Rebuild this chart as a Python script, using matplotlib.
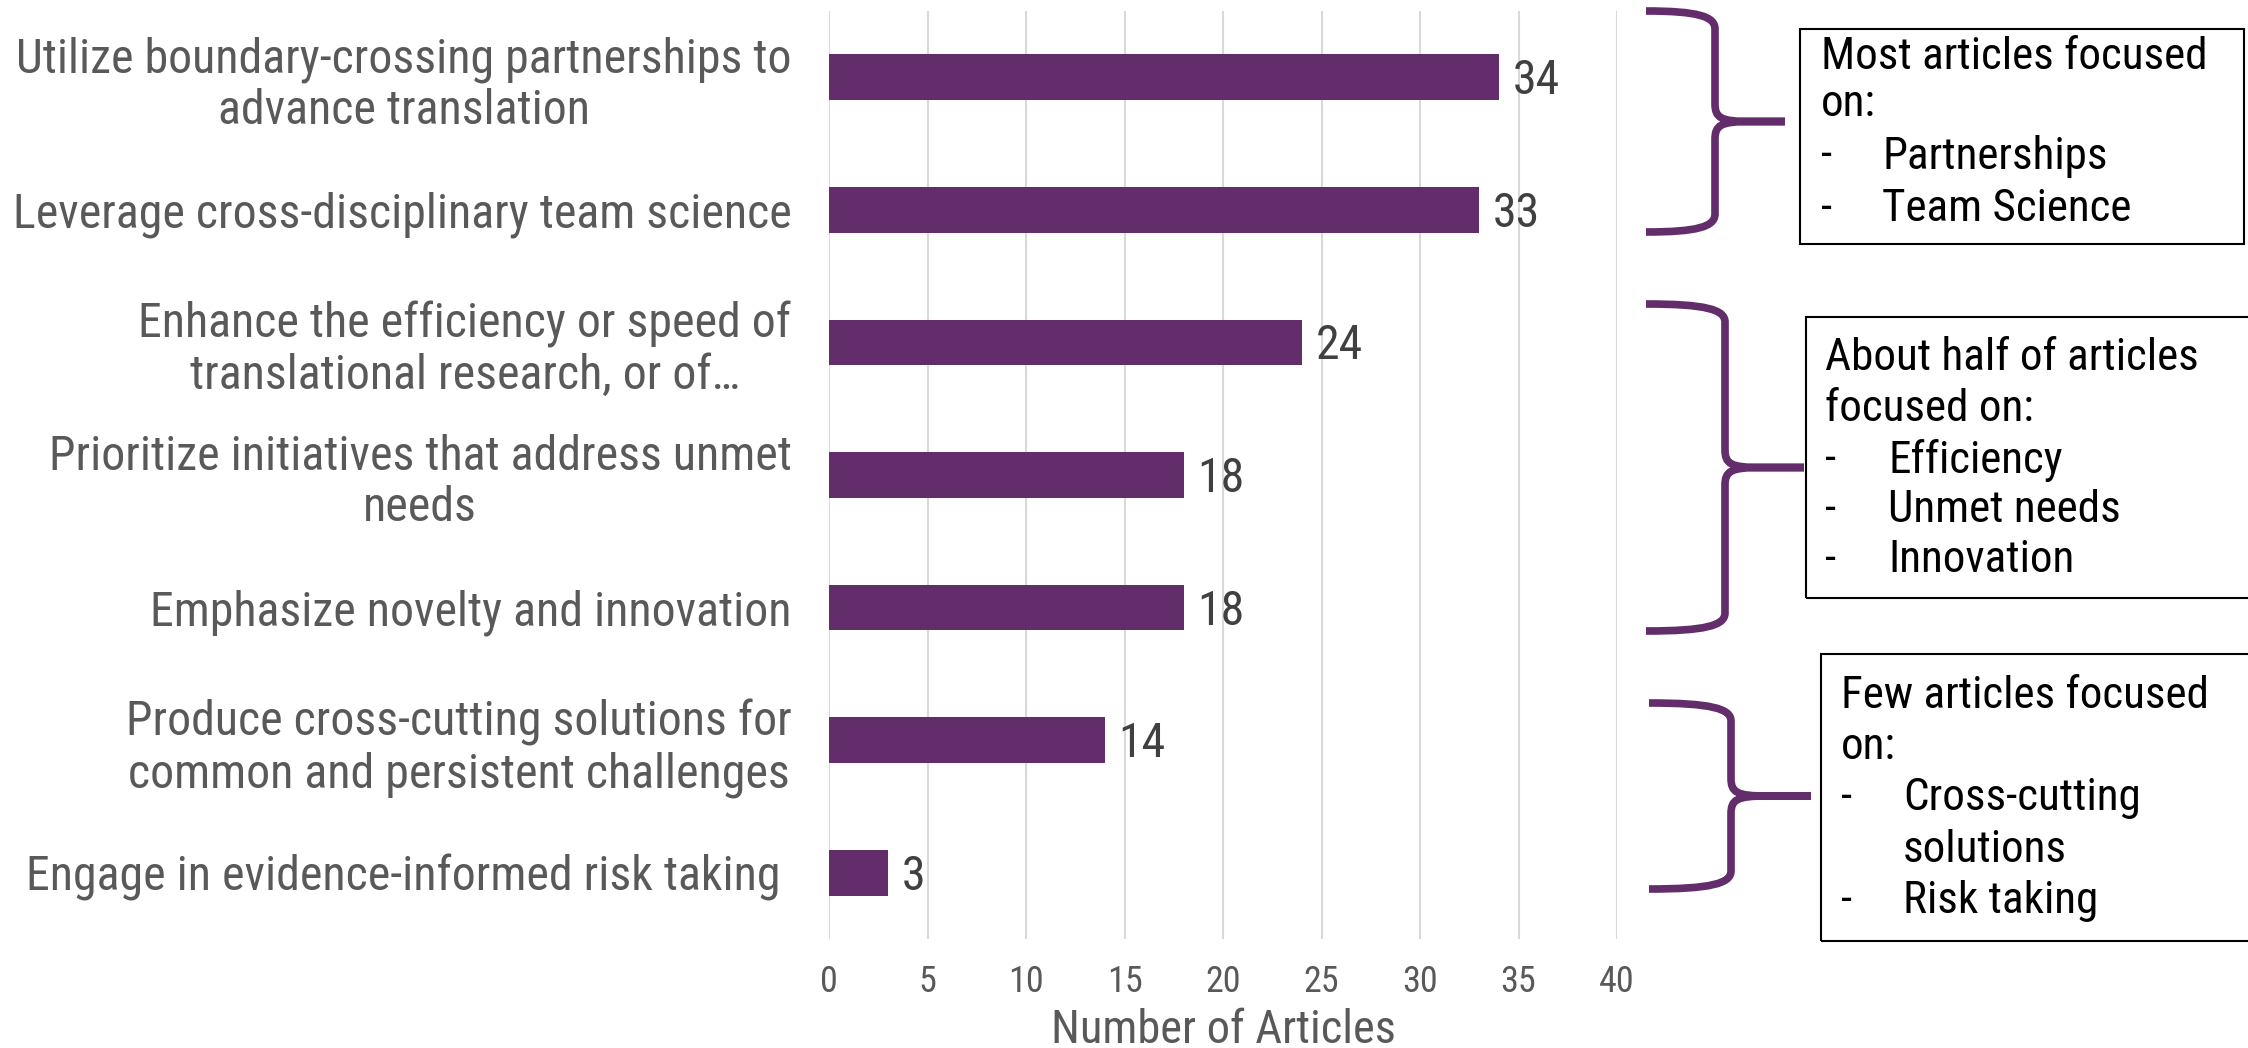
import matplotlib.pyplot as plt
from matplotlib.path import Path
from matplotlib.patches import PathPatch, Rectangle

plt.rcParams["font.family"] = ["Roboto Condensed", "Liberation Sans", "DejaVu Sans"]

# Data
categories = [
    "Utilize boundary-crossing partnerships to\nadvance translation",
    "Leverage cross-disciplinary team science",
    "Enhance the efficiency or speed of\ntranslational research, or of\u2026",
    "Prioritize initiatives that address unmet\nneeds",
    "Emphasize novelty and innovation",
    "Produce cross-cutting solutions for\ncommon and persistent challenges",
    "Engage in evidence-informed risk taking ",
]
counts = [34, 33, 24, 18, 18, 14, 3]
x_ticks = [0, 5, 10, 15, 20, 25, 30, 35, 40]

group_titles = [
    ["Most articles focused", "on:"],
    ["About half of articles", "focused on:"],
    ["Few articles focused", "on:"],
]
group_items = [
    [["Partnerships"], ["Team Science"]],
    [["Efficiency"], ["Unmet needs"], ["Innovation"]],
    [["Cross-cutting", "solutions"], ["Risk taking"]],
]

PURPLE = "#622d6a"
GRAY = "#595959"
FS = 34.5
FS_BOX = 32.5
W, H = 2248, 1048


def fx(x):
    return x / W


def fy(y):
    return 1 - y / H


fig = plt.figure(figsize=(W / 100, H / 100), dpi=100)
ax = fig.add_axes([fx(829), fy(939), fx(1617) - fx(829), fy(11) - fy(939)])

y_pos = list(range(len(categories)))
ax.barh(y_pos, counts, height=0.345, color=PURPLE, zorder=3)
for y, v in zip(y_pos, counts):
    ax.text(v + 0.7, y + 0.03, str(v), va="center", ha="left", fontsize=FS, color="#404040")

ax.set_xlim(0, 40)
ax.set_ylim(len(categories) - 0.5, -0.5)
ax.set_xticks(x_ticks)
ax.set_yticks(y_pos, categories, fontsize=FS, color=GRAY, multialignment="center",
              linespacing=1.15)
ax.tick_params(axis="y", length=0, pad=27)
ax.tick_params(axis="x", length=0, pad=18, labelsize=26, labelcolor=GRAY)
ax.grid(axis="x", color="#d9d9d9", linewidth=1.5, zorder=0)
for s in ax.spines.values():
    s.set_visible(False)
ax.set_xlabel("Number of Articles", fontsize=33.5, color=GRAY)
ax.xaxis.set_label_coords(0.5, -0.074)


def brace(x_end, y_top, y_bot, x_spine, x_tip, r=18):
    ym = (y_top + y_bot) / 2
    pts = []
    codes = []
    for sgn, y_e in ((1, y_top), (-1, y_bot)):
        seg = [
            (x_end, y_e),
            (x_end + 0.75 * (x_spine - x_end), y_e),
            (x_spine, y_e + sgn * 0.3 * r),
            (x_spine, y_e + sgn * r),
            (x_spine, ym - sgn * r),
            (x_spine, ym - sgn * 0.2 * r),
            (x_spine + 0.3 * r, ym),
            (x_spine + 2 * r, ym),
            (x_tip, ym),
        ]
        pts += seg
        codes += [Path.MOVETO, Path.CURVE4, Path.CURVE4, Path.CURVE4,
                  Path.LINETO, Path.CURVE4, Path.CURVE4, Path.CURVE4, Path.LINETO]
    path = Path([(fx(x), fy(y)) for x, y in pts], codes)
    fig.add_artist(PathPatch(path, transform=fig.transFigure, fill=False,
                             edgecolor=PURPLE, linewidth=5.5, capstyle="butt",
                             joinstyle="round"))


def note_box(x0, y0, x1, y1, tx, bx, line_ys, titles, items):
    fig.add_artist(Rectangle((fx(x0), fy(y1)), fx(x1) - fx(x0), fy(y0) - fy(y1),
                             transform=fig.transFigure, fill=False,
                             edgecolor="black", linewidth=1.5))
    k = 0
    for t in titles:
        fig.text(fx(tx), fy(line_ys[k]), t, fontsize=FS_BOX, va="center", ha="left")
        k += 1
    for item in items:
        fig.text(fx(tx), fy(line_ys[k]), "-", fontsize=FS_BOX, va="center", ha="left")
        for part in item:
            fig.text(fx(bx), fy(line_ys[k]), part, fontsize=FS_BOX, va="center", ha="left")
            k += 1


brace(1646, 11, 232, 1715, 1785)
brace(1646, 304, 631, 1725, 1804)
brace(1649, 703, 889, 1731, 1811)

note_box(1800, 29, 2244, 244, 1821, 1882, [57, 104, 156, 209],
         group_titles[0], group_items[0])
note_box(1806, 317, 2252, 598, 1825, 1888, [358, 409, 460, 510, 560],
         group_titles[1], group_items[1])
note_box(1821, 654, 2252, 941, 1841, 1903, [696, 747, 798, 850, 901],
         group_titles[2], group_items[2])

fig.savefig("out.png", dpi=100)
